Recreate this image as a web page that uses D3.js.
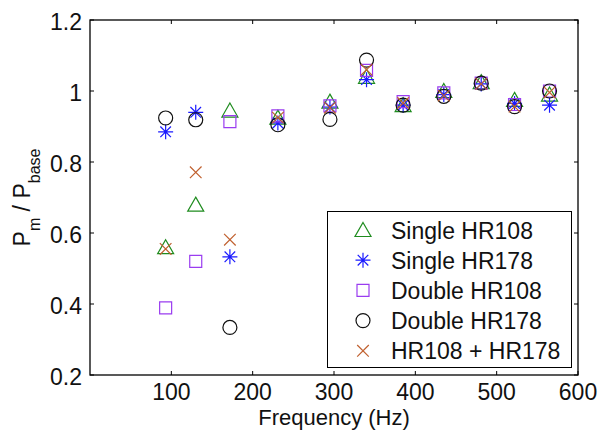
<!DOCTYPE html>
<html>
<head>
<meta charset="utf-8">
<script src="https://cdn.jsdelivr.net/npm/d3@7"></script>
<style>
  html, body { margin: 0; padding: 0; background: #fff; }
  svg { display: block; font-family: "Liberation Sans", Arial, sans-serif; }
</style>
</head>
<body>
<svg id="chart" width="600" height="430"></svg>
<script>
// Measurement frequencies (Hz)
const frequencies = [93, 130, 172, 231, 295, 340, 385, 435, 481, 522, 565];

// Power ratio P_m / P_base for each configuration
const singleHR108 = [0.56, 0.68, 0.945, 0.925, 0.97, 1.04, 0.96, 1.0, 1.025, 0.975, 0.99];
const singleHR178 = [0.885, 0.94, 0.533, 0.91, 0.955, 1.032, 0.96, 0.99, 1.02, 0.965, 0.96];
const doubleHR108 = [0.389, 0.52, 0.914, 0.93, 0.958, 1.058, 0.97, 0.995, 1.022, 0.962, 1.0];
const doubleHR178 = [0.924, 0.919, 0.334, 0.905, 0.92, 1.087, 0.96, 0.985, 1.022, 0.956, 1.0];
const comboHR = [0.555, 0.771, 0.581, 0.925, 0.953, 1.06, 0.966, 0.987, 1.02, 0.956, 0.996];

const xTicks = [100, 200, 300, 400, 500, 600];
const yTicks = [0.2, 0.4, 0.6, 0.8, 1.0, 1.2];
const legendLabels = ["Single HR108", "Single HR178", "Double HR108", "Double HR178", "HR108 + HR178"];

// Marker glyphs, drawn around the data point
const shapes = {
  triangle: "M0,-7.5L8,6.5L-8,6.5Z",
  asterisk: "M-7.5,0H7.5M0,-7.5V7.5M-5.3,-5.3L5.3,5.3M-5.3,5.3L5.3,-5.3",
  square: "M-6,-6H6V6H-6Z",
  circle: "M7,0A7,7 0 1 1 -7,0A7,7 0 1 1 7,0Z",
  cross: "M-5.8,-5.8L5.8,5.8M-5.8,5.8L5.8,-5.8"
};

const series = [
  { values: singleHR108, shape: "triangle", color: "#1f8c1f" },
  { values: singleHR178, shape: "asterisk", color: "#1a1aff" },
  { values: doubleHR108, shape: "square", color: "#9a3cf0" },
  { values: doubleHR178, shape: "circle", color: "#111111" },
  { values: comboHR, shape: "cross", color: "#c0602f" }
];

const svg = d3.select("#chart");
const plotL = 90, plotR = 578, plotT = 20, plotB = 375;

const x = d3.scaleLinear().domain([0, 600]).range([plotL, plotR]);
const y = d3.scaleLinear().domain([0.2, 1.2]).range([plotB, plotT]);

const fontSize = 23;

// Frame
svg.append("rect")
  .attr("x", plotL).attr("y", plotT)
  .attr("width", plotR - plotL).attr("height", plotB - plotT)
  .attr("fill", "none").attr("stroke", "#000").attr("stroke-width", 1.3);

// Inward ticks on all four sides
const tickLen = 4;
const tg = svg.append("g").attr("stroke", "#000").attr("stroke-width", 1);
xTicks.forEach(t => {
  tg.append("line").attr("x1", x(t)).attr("x2", x(t)).attr("y1", plotB).attr("y2", plotB - tickLen);
  tg.append("line").attr("x1", x(t)).attr("x2", x(t)).attr("y1", plotT).attr("y2", plotT + tickLen);
});
yTicks.forEach(t => {
  tg.append("line").attr("x1", plotL).attr("x2", plotL + tickLen).attr("y1", y(t)).attr("y2", y(t));
  tg.append("line").attr("x1", plotR).attr("x2", plotR - tickLen).attr("y1", y(t)).attr("y2", y(t));
});

// Tick labels
svg.append("g").selectAll("text").data(xTicks).join("text")
  .attr("x", d => x(d)).attr("y", plotB + 25)
  .attr("text-anchor", "middle").attr("font-size", fontSize).attr("fill", "#111")
  .text(d => d);

svg.append("g").selectAll("text").data(yTicks).join("text")
  .attr("x", plotL - 8).attr("y", d => y(d) + 10)
  .attr("text-anchor", "end").attr("font-size", fontSize).attr("fill", "#111")
  .text(d => d3.format("~g")(d));

// Axis titles
svg.append("text")
  .attr("x", (plotL + plotR) / 2).attr("y", 425)
  .attr("text-anchor", "middle").attr("font-size", 22).attr("fill", "#111")
  .text("Frequency (Hz)");

const yl = svg.append("text")
  .attr("transform", `translate(30,${(plotT + plotB) / 2}) rotate(-90)`)
  .attr("text-anchor", "middle").attr("font-size", fontSize).attr("fill", "#111");
yl.append("tspan").text("P");
yl.append("tspan").attr("font-size", 16).attr("dy", 10).text("m");
yl.append("tspan").attr("dy", -10).text(" / P");
yl.append("tspan").attr("font-size", 16).attr("dy", 10).text("base");

// Data markers
series.forEach(s => {
  svg.append("g").selectAll("path")
    .data(s.values.map((v, i) => ({ f: frequencies[i], v })))
    .join("path")
    .attr("transform", d => `translate(${x(d.f)},${y(d.v)})`)
    .attr("d", shapes[s.shape])
    .attr("fill", "none").attr("stroke", s.color).attr("stroke-width", 1.2);
});

// Legend
const lg = svg.append("g");
lg.append("rect")
  .attr("x", 327.5).attr("y", 211.5).attr("width", 244).attr("height", 156)
  .attr("fill", "#fff").attr("stroke", "#000").attr("stroke-width", 1);
series.forEach((s, i) => {
  const cy = 230 + i * 30.2;
  lg.append("path")
    .attr("transform", `translate(363,${cy})`)
    .attr("d", shapes[s.shape])
    .attr("fill", "none").attr("stroke", s.color).attr("stroke-width", 1.2);
  lg.append("text")
    .attr("x", 391).attr("y", cy + 8.5)
    .attr("font-size", fontSize).attr("fill", "#111")
    .text(legendLabels[i]);
});
</script>
</body>
</html>
